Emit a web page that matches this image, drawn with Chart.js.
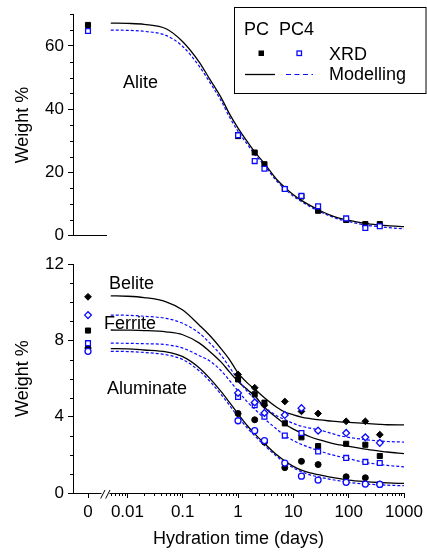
<!DOCTYPE html>
<html><head><meta charset="utf-8">
<script src="https://cdn.jsdelivr.net/npm/chart.js@4/dist/chart.umd.min.js"></script>
<style>
html,body{margin:0;padding:0;background:#fff;}
#wrap{position:relative;width:427px;height:554px;overflow:hidden;background:#fff;}
#c1{position:absolute;left:0;top:0;}
#c2{position:absolute;left:0;top:250px;}
</style></head><body>
<div id="wrap"><canvas id="c1" width="427" height="250"></canvas><canvas id="c2" width="427" height="304"></canvas></div>
<script>
// ---------- DATA ----------
const xTickValues = [0.01, 0.1, 1, 10, 100, 1000];
const xTickLabels = ['0.01', '0.1', '1', '10', '100', '1000'];
const zeroTickLabel = '0';
const topYTicks = [0, 20, 40, 60];
const botYTicks = [0, 4, 8, 12];
const topYMinor = [5, 10, 15, 25, 30, 35, 45, 50, 55, 65, 70];
const botYMinor = [1, 2, 3, 5, 6, 7, 9, 10, 11];
const minorMantissas = [2, 3, 4, 5, 6, 7, 8, 9];
const minorDecades = [0.001, 0.01, 0.1, 1, 10, 100];

const modelTimes = [0.005, 0.01, 0.02, 0.05, 0.1, 0.2, 0.3, 0.5, 0.7, 1, 1.5, 2, 3, 5, 7, 10, 14, 20, 30, 50, 70, 100, 200, 365, 500, 1000];
const aliteModelPC  = [67.2, 67.1, 66.8, 65.4, 61.3, 54.8, 49.8, 43.5, 38.5, 34.0, 29.5, 26.5, 22.8, 17.8, 15.3, 13.0, 11.2, 9.6, 8.0, 6.3, 5.5, 4.9, 3.9, 3.4, 3.2, 2.9];
const aliteModelPC4 = [65.0, 64.9, 64.6, 63.3, 59.8, 53.5, 48.8, 42.5, 37.5, 33.0, 28.7, 25.8, 22.2, 17.3, 14.8, 12.5, 10.8, 9.2, 7.6, 6.0, 5.1, 4.5, 3.4, 2.9, 2.6, 2.2];
const beliteModelPC  = [10.34, 10.32, 10.25, 10.03, 9.6, 8.8, 8.3, 7.55, 7.0, 6.3, 5.75, 5.45, 5.0, 4.5, 4.25, 4.1, 3.98, 3.9, 3.83, 3.77, 3.73, 3.7, 3.65, 3.6, 3.58, 3.57];
const beliteModelPC4 = [9.33, 9.32, 9.27, 9.16, 8.9, 8.38, 7.9, 7.2, 6.6, 5.95, 5.3, 4.95, 4.5, 4.05, 3.85, 3.65, 3.5, 3.4, 3.3, 3.12, 3.0, 2.92, 2.8, 2.73, 2.7, 2.67];
const ferriteModelPC  = [8.55, 8.54, 8.52, 8.45, 8.3, 7.86, 7.45, 6.85, 6.35, 5.85, 5.4, 5.1, 4.5, 3.95, 3.62, 3.35, 3.15, 2.95, 2.78, 2.6, 2.52, 2.44, 2.3, 2.2, 2.15, 2.06];
const ferriteModelPC4 = [7.86, 7.85, 7.83, 7.78, 7.6, 7.2, 6.95, 6.4, 5.9, 5.35, 4.75, 4.4, 3.9, 3.35, 3.01, 2.75, 2.55, 2.38, 2.2, 2.0, 1.9, 1.8, 1.6, 1.5, 1.45, 1.37];
const aluminateModelPC  = [7.57, 7.56, 7.5, 7.4, 7.15, 6.56, 6.05, 5.3, 4.75, 4.15, 3.5, 3.1, 2.6, 2.0, 1.68, 1.4, 1.2, 1.05, 0.95, 0.82, 0.75, 0.68, 0.6, 0.55, 0.53, 0.5];
const aluminateModelPC4 = [7.43, 7.42, 7.37, 7.25, 7.0, 6.4, 5.9, 5.15, 4.6, 4.0, 3.38, 3.0, 2.5, 1.92, 1.6, 1.32, 1.12, 0.95, 0.83, 0.7, 0.63, 0.56, 0.47, 0.43, 0.41, 0.38];

const xrdTimes = [1, 2, 3, 7, 14, 28, 90, 200, 365];
const aliteXrdPC  = [31.5, 26.3, 22.6, 14.8, 12.4, 7.9, 5.0, 3.7, 3.7];
const aliteXrdPC4 = [31.8, 23.6, 21.2, 14.8, 12.6, 9.3, 5.5, 2.5, 3.0];
const beliteXrdPC  = [6.22, 5.52, 4.6, 4.8, 4.28, 4.17, 3.76, 3.76, 3.06];
const beliteXrdPC4 = [5.25, 4.75, 4.2, 4.09, 4.45, 3.27, 3.15, 2.92, 2.63];
const ferriteXrdPC  = [5.96, 5.18, 4.74, 3.65, 2.92, 2.46, 2.58, 2.53, 1.94];
const ferriteXrdPC4 = [5.04, 4.6, 4.0, 3.01, 3.15, 2.18, 1.84, 1.63, 1.57];
const aluminateXrdPC  = [4.17, 3.84, 2.67, 1.33, 1.66, 1.49, 0.85, 0.8, 0.47];
const aluminateXrdPC4 = [3.79, 3.27, 2.75, 1.57, 0.88, 0.68, 0.56, 0.47, 0.45];

// values at time 0 (unhydrated), plotted on the separate "0" axis
const zeroTime = 0;
const aliteZero     = {pc: 66.6, pc4: 64.7};
const beliteZero    = {pc: 10.29, pc4: 9.33};
const ferriteZero   = {pc: 8.52, pc4: 7.86};
const aluminateZero = {pc: 7.6, pc4: 7.43};

// ---------- STYLE ----------
const FONT = "'Liberation Sans', Arial, Helvetica, sans-serif";
const BLACK = '#000000';
const BLUE = '#0a0aff';
Chart.defaults.font.family = FONT;
Chart.defaults.font.size = 17;
Chart.defaults.color = BLACK;

const logMinor = [];
minorDecades.forEach(d => minorMantissas.forEach(m => {
  const v = +(m * d).toPrecision(3);
  if (v >= 0.005 && v <= 1000) logMinor.push(v);
}));

function curve(vals, color, dashed) {
  return {
    data: modelTimes.map((t, i) => ({x: t, y: vals[i]})),
    showLine: true, borderColor: color, borderWidth: dashed ? 1.2 : 1.3,
    borderDash: dashed ? [3, 2] : [], pointRadius: 0,
    cubicInterpolationMode: 'monotone', xAxisID: 'x', order: 5
  };
}
function markerStyle(style, pc) {
  const r = style === 'rect' ? (pc ? 3.6 : 3.4) : style === 'rectRot' ? 3.4 : 3.0;
  return {
    pointStyle: style, pointRadius: r,
    backgroundColor: pc ? BLACK : '#ffffff',
    borderColor: pc ? BLACK : BLUE,
    borderWidth: pc ? 1 : 1.3,
    order: pc ? 3 : 1
  };
}
function points(vals, style, pc) {
  return Object.assign({
    data: xrdTimes.map((t, i) => ({x: t, y: vals[i]})),
    showLine: false, xAxisID: 'x'
  }, markerStyle(style, pc));
}
function zeroPoint(val, style, pc) {
  return Object.assign({
    data: [{x: zeroTime, y: val}], showLine: false, xAxisID: 'x0'
  }, markerStyle(style, pc));
}

const decor = {
  id: 'decor',
  afterDraw(chart, args, opts) {
    const ctx = chart.ctx, ca = chart.chartArea;
    ctx.save();
    ctx.strokeStyle = BLACK; ctx.lineWidth = 1;
    (opts.minor || []).forEach(m => {
      const s = chart.scales[m.axis];
      ctx.beginPath();
      m.values.forEach(v => {
        const p = Math.round(s.getPixelForValue(v)) + 0.5;
        if (s.isHorizontal()) { ctx.moveTo(p, s.top); ctx.lineTo(p, s.top + m.len); }
        else { ctx.moveTo(s.right - m.len, p); ctx.lineTo(s.right, p); }
      });
      ctx.stroke();
    });
    if (opts.axisBreak) {
      const s0 = chart.scales.x0;
      const yb = s0.top + 0.5, xr = s0.right;
      ctx.fillStyle = '#ffffff';
      ctx.fillRect(xr - 4.5, yb - 2, 8, 4);
      ctx.beginPath();
      ctx.moveTo(xr - 5.3, yb + 5); ctx.lineTo(xr - 1, yb - 3.5);
      ctx.moveTo(xr - 0.3, yb + 5); ctx.lineTo(xr + 4, yb - 3.5);
      ctx.stroke();
    }
    ctx.fillStyle = BLACK;
    ctx.font = '18px ' + FONT;
    ctx.textBaseline = 'alphabetic';
    ctx.textAlign = 'left';
    (opts.labels || []).forEach(l => ctx.fillText(l.text, ca.left + l.dx, ca.top + l.dy));
    if (opts.legend) {
      ctx.strokeRect(234.5, 7.5, 191.5, 86);
      ctx.fillText('PC', 244, 35);
      ctx.fillText('PC4', 279, 35);
      ctx.fillText('XRD', 329, 59.5);
      ctx.fillText('Modelling', 329, 79.5);
      ctx.fillRect(258.5, 50.5, 5.5, 5.5);
      ctx.strokeStyle = BLUE; ctx.lineWidth = 1.3;
      ctx.strokeRect(297, 51, 4.5, 4.5);
      ctx.strokeStyle = BLACK; ctx.lineWidth = 1.3;
      ctx.beginPath(); ctx.moveTo(245, 74.5); ctx.lineTo(275, 74.5); ctx.stroke();
      ctx.strokeStyle = BLUE; ctx.lineWidth = 1.2; ctx.setLineDash([5, 3.5]);
      ctx.beginPath(); ctx.moveTo(286, 74.5); ctx.lineTo(313, 74.5); ctx.stroke();
      ctx.setLineDash([]);
    }
    ctx.restore();
  }
};

function yAxis(max, ticks) {
  return {
    type: 'linear', position: 'left', min: 0, max: max,
    afterBuildTicks: s => { s.ticks = ticks.map(v => ({value: v})); },
    afterFit: s => { s.width = 73; },
    ticks: {padding: 4, font: {size: 17}, color: BLACK},
    grid: {drawOnChartArea: false, drawTicks: true, tickLength: 5, tickColor: BLACK, color: BLACK},
    border: {display: true, color: BLACK, width: 1},
    title: {display: true, text: 'Weight %', font: {size: 18}, color: BLACK, padding: {top: 12, bottom: 0}}
  };
}

const commonOpts = {
  responsive: false, animation: false, events: [],
  plugins: {legend: {display: false}, tooltip: {enabled: false}}
};

// ---------- TOP PANEL (Alite) ----------
new Chart(document.getElementById('c1'), {
  type: 'scatter',
  data: {datasets: [
    curve(aliteModelPC, BLACK, false),
    curve(aliteModelPC4, BLUE, true),
    points(aliteXrdPC, 'rect', true),
    points(aliteXrdPC4, 'rect', false),
    zeroPoint(aliteZero.pc, 'rect', true),
    zeroPoint(aliteZero.pc4, 'rect', false)
  ]},
  options: Object.assign({}, commonOpts, {
    layout: {padding: {left: 0, right: 23, top: 8, bottom: 0}},
    scales: {
      x0: {type: 'linear', position: 'bottom', stack: 'xs', stackWeight: 33, min: -1, max: 1.2,
        grid: {display: false}, ticks: {display: false},
        border: {display: true, color: BLACK, width: 1},
        afterFit: s => { s.height = 11; }},
      x: {type: 'logarithmic', position: 'bottom', stack: 'xs', stackWeight: 298, min: 0.0041, max: 1000,
        grid: {display: false}, ticks: {display: false}, border: {display: false},
        afterFit: s => { s.height = 11; }},
      y: yAxis(70, topYTicks)
    },
    plugins: Object.assign({}, commonOpts.plugins, {
      decor: {
        minor: [{axis: 'y', values: topYMinor, len: 3}],
        labels: [{text: 'Alite', dx: 50, dy: 73.7}],
        legend: true
      }
    })
  }),
  plugins: [decor]
});

// ---------- BOTTOM PANEL (Belite, Ferrite, Aluminate) ----------
new Chart(document.getElementById('c2'), {
  type: 'scatter',
  data: {datasets: [
    curve(beliteModelPC, BLACK, false),
    curve(beliteModelPC4, BLUE, true),
    curve(ferriteModelPC, BLACK, false),
    curve(ferriteModelPC4, BLUE, true),
    curve(aluminateModelPC, BLACK, false),
    curve(aluminateModelPC4, BLUE, true),
    points(beliteXrdPC, 'rectRot', true),
    points(beliteXrdPC4, 'rectRot', false),
    points(ferriteXrdPC, 'rect', true),
    points(ferriteXrdPC4, 'rect', false),
    points(aluminateXrdPC, 'circle', true),
    points(aluminateXrdPC4, 'circle', false),
    zeroPoint(beliteZero.pc, 'rectRot', true),
    zeroPoint(beliteZero.pc4, 'rectRot', false),
    zeroPoint(ferriteZero.pc, 'rect', true),
    zeroPoint(ferriteZero.pc4, 'rect', false),
    zeroPoint(aluminateZero.pc, 'circle', true),
    zeroPoint(aluminateZero.pc4, 'circle', false)
  ]},
  options: Object.assign({}, commonOpts, {
    layout: {padding: {left: 0, right: 23, top: 12, bottom: 4.4}},
    scales: {
      x0: {type: 'linear', position: 'bottom', stack: 'xs', stackWeight: 33, min: -1, max: 1.2,
        afterBuildTicks: s => { s.ticks = [{value: zeroTime}]; },
        ticks: {callback: () => zeroTickLabel, padding: 4, maxRotation: 0, autoSkip: false, font: {size: 17}, color: BLACK},
        grid: {drawOnChartArea: false, drawTicks: true, tickLength: 5, tickColor: BLACK, color: BLACK},
        border: {display: true, color: BLACK, width: 1},
        afterFit: s => { s.height = 35; }},
      x: {type: 'logarithmic', position: 'bottom', stack: 'xs', stackWeight: 298, min: 0.0041, max: 1000,
        afterBuildTicks: s => { s.ticks = xTickValues.map(v => ({value: v})); },
        ticks: {callback: (v, i) => xTickLabels[i], padding: 4, maxRotation: 0, autoSkip: false, font: {size: 17}, color: BLACK},
        grid: {drawOnChartArea: false, drawTicks: true, tickLength: 5, tickColor: BLACK, color: BLACK},
        border: {display: true, color: BLACK, width: 1},
        afterFit: s => { s.height = 35; }},
      y: yAxis(12, botYTicks)
    },
    plugins: Object.assign({}, commonOpts.plugins, {
      title: {display: true, text: 'Hydration time (days)', position: 'bottom', fullSize: false,
        padding: 0, font: {size: 18, weight: 'normal'}, color: BLACK},
      decor: {
        minor: [{axis: 'y', values: botYMinor, len: 3}, {axis: 'x', values: logMinor, len: 3}],
        axisBreak: true,
        labels: [
          {text: 'Belite', dx: 36, dy: 24.7},
          {text: 'Ferrite', dx: 31, dy: 64.7},
          {text: 'Aluminate', dx: 34, dy: 129.7}
        ]
      }
    })
  }),
  plugins: [decor]
});
</script>
</body></html>
